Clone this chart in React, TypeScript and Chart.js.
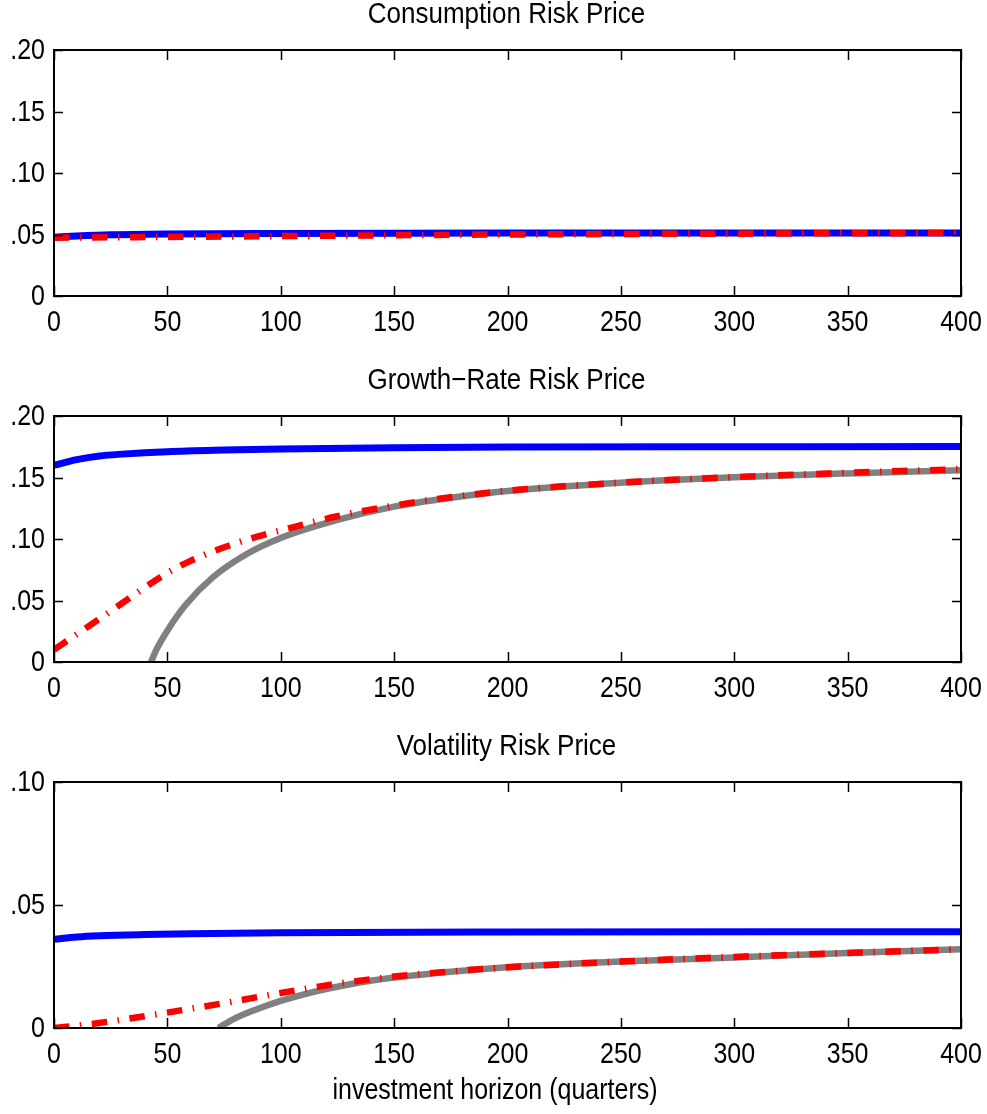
import React, { useEffect, useRef } from "react";
import { Chart, registerables } from "chart.js";

Chart.register(...registerables);

const FONT = '"Liberation Sans", Arial, Helvetica, sans-serif';

// shared x axis
const xTicks = [0, 50, 100, 150, 200, 250, 300, 350, 400];
const xTickLabels = ["0", "50", "100", "150", "200", "250", "300", "350", "400"];
const xAxisLabel = "investment horizon (quarters)";

// Panel 1: Consumption Risk Price
const consTitle = "Consumption Risk Price";
const consYTicks = [0, 0.05, 0.1, 0.15, 0.2];
const consYTickLabels = ["0", ".05", ".10", ".15", ".20"];
const consBlueX = [0, 10, 25, 50, 100, 150, 200, 300, 400];
const consBlueY = [0.0478, 0.0487, 0.0497, 0.0504, 0.0509, 0.0511, 0.0512, 0.0513, 0.0513];
const consRedX = [0, 50, 100, 150, 200, 250, 300, 350, 400];
const consRedY = [0.0474, 0.048, 0.0487, 0.0494, 0.05, 0.0504, 0.0507, 0.051, 0.0512];

// Panel 2: Growth-Rate Risk Price
const growthTitle = "Growth\u2212Rate Risk Price";
const growthYTicks = [0, 0.05, 0.1, 0.15, 0.2];
const growthYTickLabels = ["0", ".05", ".10", ".15", ".20"];
const growthBlueX = [0, 10, 20, 30, 50, 75, 100, 150, 200, 300, 400];
const growthBlueY = [0.16, 0.1645, 0.1675, 0.169, 0.171, 0.1723, 0.1732, 0.1742, 0.1747, 0.175, 0.1752];
const growthRedX = [0, 10, 20, 30, 40, 50, 60, 70, 80, 90, 100, 125, 150, 175, 200, 250, 300, 350, 400];
const growthRedY = [0.01, 0.0225, 0.035, 0.0478, 0.0605, 0.0725, 0.082, 0.0898, 0.0964, 0.1021, 0.107, 0.1185, 0.1272, 0.134, 0.1393, 0.1458, 0.1503, 0.1538, 0.1568];
const growthGrayX = [42.8, 45, 50, 58, 70, 85, 100, 125, 150, 175, 200, 250, 300, 350, 400];
const growthGrayY = [0, 0.0095, 0.0255, 0.0463, 0.0688, 0.0878, 0.1008, 0.1155, 0.1263, 0.1335, 0.139, 0.1458, 0.1502, 0.1533, 0.1558];

// Panel 3: Volatility Risk Price
const volTitle = "Volatility Risk Price";
const volYTicks = [0, 0.05, 0.1];
const volYTickLabels = ["0", ".05", ".10"];
const volBlueX = [0, 10, 20, 40, 60, 100, 200, 400];
const volBlueY = [0.0361, 0.037, 0.0375, 0.038, 0.0383, 0.0387, 0.039, 0.0391];
const volRedX = [0, 10, 25, 40, 60, 75, 90, 110, 125, 150, 175, 200, 250, 300, 350, 400];
const volRedY = [0, 0.0009, 0.0027, 0.0048, 0.0078, 0.0101, 0.0126, 0.0158, 0.018, 0.0209, 0.023, 0.0247, 0.027, 0.0289, 0.0305, 0.032];
const volGrayX = [72.5, 80, 90, 100, 115, 130, 150, 175, 200, 250, 300, 350, 400];
const volGrayY = [0, 0.004, 0.0078, 0.011, 0.0148, 0.0177, 0.0205, 0.0229, 0.0247, 0.027, 0.0287, 0.0305, 0.032];

type Series = { xs: number[]; ys: number[]; kind: "blue" | "red" | "gray" };

function toPoints(xs: number[], ys: number[]) {
  return xs.map((x, i) => ({ x, y: ys[i] }));
}

function styleFor(kind: string) {
  if (kind === "blue") {
    return { borderColor: "#0000ff", borderWidth: 7 };
  }
  if (kind === "red") {
    return { borderColor: "#ff0000", borderWidth: 6.5, borderDash: [15.5, 10.5, 1.5, 10.5] };
  }
  return { borderColor: "#808080", borderWidth: 6.5, clip: { left: 4, right: 4, top: 4, bottom: 0 } };
}

const STRETCH = 1.15;

function drawText(
  ctx: CanvasRenderingContext2D,
  text: string,
  x: number,
  y: number,
  align: CanvasTextAlign,
  size: number
) {
  ctx.save();
  ctx.translate(x, y);
  ctx.scale(1, STRETCH);
  ctx.font = `${size}px ${FONT}`;
  ctx.textAlign = align;
  ctx.textBaseline = "middle";
  ctx.fillStyle = "#000";
  ctx.fillText(text, 0, 0);
  ctx.restore();
}

function Panel(props: {
  title: string;
  yMax: number;
  yTicks: number[];
  yTickLabels: string[];
  series: Series[];
  height: number;
  xLabel?: string;
}) {
  const ref = useRef<HTMLCanvasElement | null>(null);
  useEffect(() => {
    const canvas = ref.current;
    if (!canvas) return;
    const { title, yMax, yTicks, yTickLabels, series, height, xLabel } = props;
    const order = { red: 0, blue: 1, gray: 2 } as Record<string, number>;
    const sorted = [...series].sort((a, b) => order[a.kind] - order[b.kind]);
    const framePlugin = {
      id: "frame",
      afterDatasetsDraw(chart: any) {
        const { ctx, chartArea } = chart;
        const { left, right, top, bottom } = chartArea;
        const xs = chart.scales.x;
        const ys = chart.scales.y;
        ctx.save();
        ctx.strokeStyle = "#000";
        ctx.lineWidth = 2;
        ctx.strokeRect(left, top, right - left, bottom - top);
        ctx.lineWidth = 1.5;
        ctx.beginPath();
        xTicks.forEach((v) => {
          const px = Math.round(xs.getPixelForValue(v)) + 0.5;
          ctx.moveTo(px, bottom);
          ctx.lineTo(px, bottom - 10);
          ctx.moveTo(px, top);
          ctx.lineTo(px, top + 10);
        });
        yTicks.forEach((v) => {
          const py = Math.round(ys.getPixelForValue(v)) + 0.5;
          ctx.moveTo(left, py);
          ctx.lineTo(left + 9, py);
          ctx.moveTo(right, py);
          ctx.lineTo(right - 9, py);
        });
        ctx.stroke();
        ctx.restore();
        // tick labels placed through the chart's scales
        xTicks.forEach((v, i) => {
          drawText(ctx, xTickLabels[i], xs.getPixelForValue(v), bottom + 27, "center", 25);
        });
        yTicks.forEach((v, i) => {
          drawText(ctx, yTickLabels[i], left - 9, ys.getPixelForValue(v) + 1.5, "right", 25);
        });
        drawText(ctx, title, (left + right) / 2 - 1, 14.5, "center", 26);
        if (xLabel) {
          drawText(ctx, xLabel, 495, 359, "center", 25);
        }
      },
    };
    const chart = new Chart(canvas, {
      type: "line",
      data: {
        datasets: sorted.map((s) => ({
          data: toPoints(s.xs, s.ys),
          fill: false,
          pointRadius: 0,
          cubicInterpolationMode: "monotone",
          borderCapStyle: "butt",
          borderJoinStyle: "round",
          ...styleFor(s.kind),
        })) as any,
      },
      options: {
        animation: false,
        responsive: false,
        events: [],
        layout: { padding: { left: 0, right: 26, top: 50, bottom: 0 } },
        plugins: {
          legend: { display: false },
          tooltip: { enabled: false },
          title: { display: false },
        },
        scales: {
          x: {
            type: "linear",
            min: 0,
            max: 400,
            grid: { display: false, drawTicks: false },
            border: { display: false },
            afterBuildTicks: (s: any) => {
              s.ticks = xTicks.map((v) => ({ value: v }));
            },
            afterFit: (s: any) => {
              s.height = height - 296;
            },
            ticks: { display: false },
          },
          y: {
            type: "linear",
            min: 0,
            max: yMax,
            grid: { display: false, drawTicks: false },
            border: { display: false },
            afterBuildTicks: (s: any) => {
              s.ticks = yTicks.map((v) => ({ value: v }));
            },
            afterFit: (s: any) => {
              s.width = 54;
            },
            ticks: { display: false },
          },
        },
      } as any,
      plugins: [framePlugin],
    });
    return () => chart.destroy();
  }, []);
  return (
    <canvas
      ref={ref}
      width={987}
      height={props.height}
      style={{ display: "block", width: 987, height: props.height }}
    />
  );
}

export default function App() {
  return (
    <div style={{ position: "absolute", left: 0, top: 0, width: 987, height: 1114, background: "#fff" }}>
      <Panel
        title={consTitle}
        yMax={0.2}
        yTicks={consYTicks}
        yTickLabels={consYTickLabels}
        height={366}
        series={[
          { xs: consBlueX, ys: consBlueY, kind: "blue" },
          { xs: consRedX, ys: consRedY, kind: "red" },
        ]}
      />
      <Panel
        title={growthTitle}
        yMax={0.2}
        yTicks={growthYTicks}
        yTickLabels={growthYTickLabels}
        height={366}
        series={[
          { xs: growthGrayX, ys: growthGrayY, kind: "gray" },
          { xs: growthBlueX, ys: growthBlueY, kind: "blue" },
          { xs: growthRedX, ys: growthRedY, kind: "red" },
        ]}
      />
      <Panel
        title={volTitle}
        yMax={0.1}
        yTicks={volYTicks}
        yTickLabels={volYTickLabels}
        height={382}
        xLabel={xAxisLabel}
        series={[
          { xs: volGrayX, ys: volGrayY, kind: "gray" },
          { xs: volBlueX, ys: volBlueY, kind: "blue" },
          { xs: volRedX, ys: volRedY, kind: "red" },
        ]}
      />
    </div>
  );
}
